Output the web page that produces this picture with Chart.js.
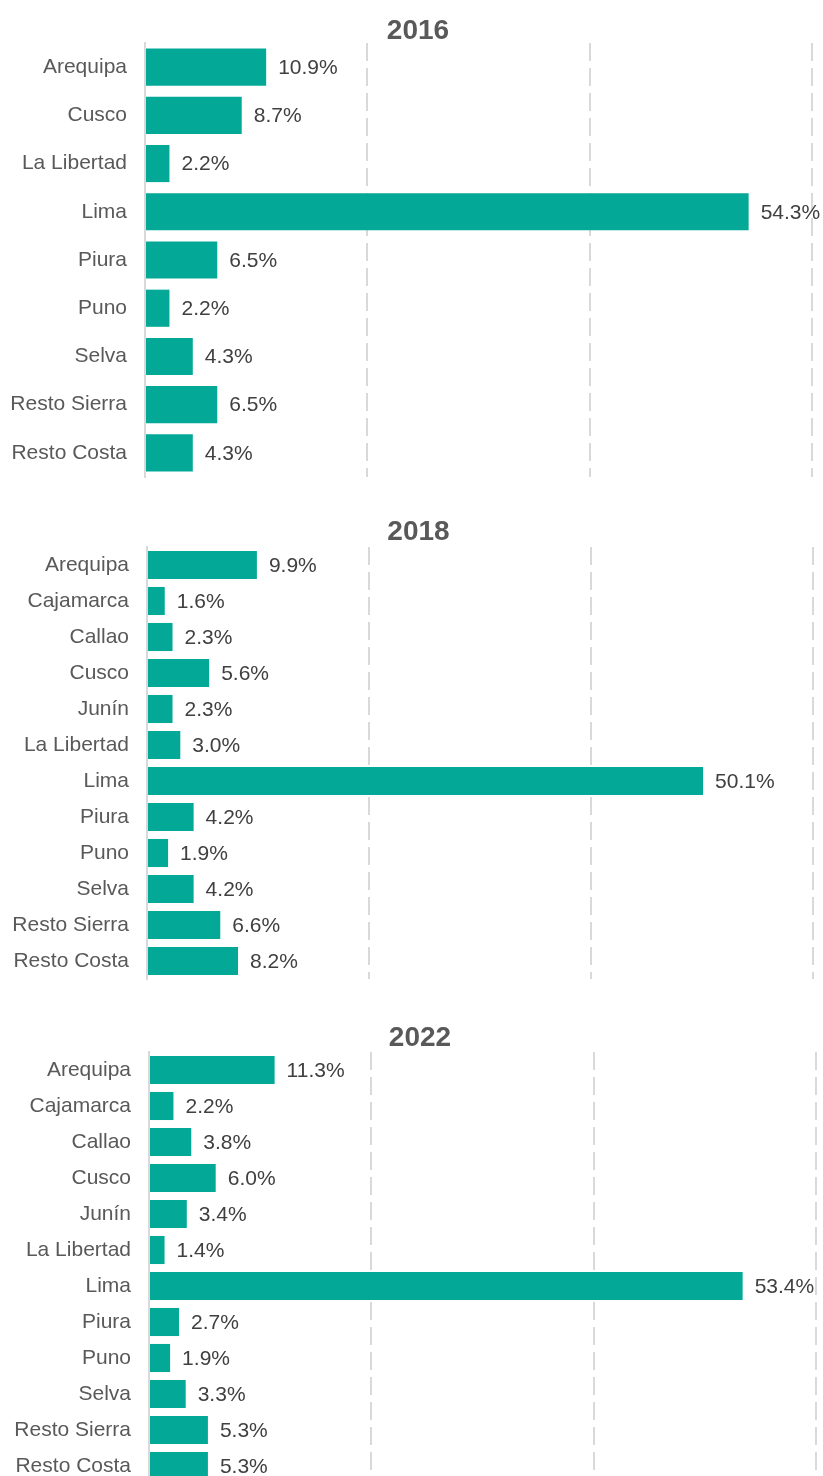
<!DOCTYPE html>
<html>
<head>
<meta charset="utf-8">
<script src="https://cdn.jsdelivr.net/npm/chart.js@4.4.0/dist/chart.umd.min.js"></script>
<style>
  body { margin: 0; background: #fff; }
  .box { position: absolute; left: 0; width: 823px; }
</style>
</head>
<body>
<div class="box" style="top:0"><canvas id="c2016" width="823" height="480"></canvas></div>
<div class="box" style="top:500px"><canvas id="c2018" width="823" height="485"></canvas></div>
<div class="box" style="top:1000px"><canvas id="c2022" width="823" height="490"></canvas></div>
<script>
const labels2016 = ["Arequipa", "Cusco", "La Libertad", "Lima", "Piura", "Puno", "Selva", "Resto Sierra", "Resto Costa"];
const values2016 = [10.9, 8.7, 2.2, 54.3, 6.5, 2.2, 4.3, 6.5, 4.3];

const labels2018 = ["Arequipa", "Cajamarca", "Callao", "Cusco", "Junín", "La Libertad", "Lima", "Piura", "Puno", "Selva", "Resto Sierra", "Resto Costa"];
const values2018 = [9.9, 1.6, 2.3, 5.6, 2.3, 3.0, 50.1, 4.2, 1.9, 4.2, 6.6, 8.2];

const labels2022 = ["Arequipa", "Cajamarca", "Callao", "Cusco", "Junín", "La Libertad", "Lima", "Piura", "Puno", "Selva", "Resto Sierra", "Resto Costa"];
const values2022 = [11.3, 2.2, 3.8, 6.0, 3.4, 1.4, 53.4, 2.7, 1.9, 3.3, 5.3, 5.3];

const xMax = 60;
const xStep = 20;

const FONT = '"Liberation Sans", Arial, sans-serif';
const BAR = "#03a996";
const GRID = "#d9d9d9";

// draws "10.9%" next to the end of each bar
const valueLabels = {
  id: "valueLabels",
  afterDatasetsDraw(chart) {
    const ctx = chart.ctx;
    const meta = chart.getDatasetMeta(0);
    const data = chart.data.datasets[0].data;
    ctx.save();
    ctx.font = "21px " + FONT;
    ctx.fillStyle = "#404040";
    ctx.textAlign = "left";
    ctx.textBaseline = "middle";
    meta.data.forEach((bar, i) => {
      ctx.fillText(data[i].toFixed(1) + "%", bar.x + 12, bar.y + 1);
    });
    ctx.restore();
  }
};

// title sits a bit right of the canvas centre in the original
const shiftTitle = {
  id: "shiftTitle",
  afterLayout(chart) {
    if (chart.titleBlock) chart.titleBlock.left = 24;
  }
};

function makeChart(id, title, labels, values, opt) {
  new Chart(document.getElementById(id), {
    type: "bar",
    data: {
      labels: labels,
      datasets: [{
        data: values,
        backgroundColor: BAR,
        barPercentage: opt.bar,
        categoryPercentage: 1
      }]
    },
    options: {
      indexAxis: "y",
      responsive: false,
      animation: false,
      layout: { padding: { left: 0, right: opt.right, top: 0, bottom: opt.bottom } },
      plugins: {
        legend: { display: false },
        tooltip: { enabled: false },
        title: {
          display: true,
          text: title,
          color: "#595959",
          font: { family: FONT, size: 28, weight: "bold", lineHeight: 1.0 },
          padding: { top: opt.titleTop, bottom: opt.titleBottom }
        }
      },
      scales: {
        x: {
          min: 0,
          max: xMax,
          ticks: { display: false, stepSize: xStep },
          grid: {
            drawTicks: false,
            lineWidth: 2,
            color: (c) => (c.tick && c.tick.value === 0 ? "transparent" : GRID)
          },
          border: { display: false, dash: [18, 7] }
        },
        y: {
          grid: { display: false, drawTicks: false },
          border: { display: true, color: GRID, width: 2 },
          ticks: {
            color: "#595959",
            padding: 18,
            font: { family: FONT, size: 21 }
          },
          afterFit: (scale) => {
            scale.width = opt.axisX;
            scale.paddingTop = 0;
            scale.paddingBottom = 0;
          }
        }
      }
    },
    plugins: [valueLabels, shiftTitle]
  });
}

makeChart("c2016", "2016", labels2016, values2016, { bar: 0.77, right: 11, bottom: 3, titleTop: 17, titleBottom: -2, axisX: 145 });
makeChart("c2018", "2018", labels2018, values2018, { bar: 0.78, right: 10, bottom: 6, titleTop: 18, titleBottom: 1, axisX: 147 });
makeChart("c2022", "2022", labels2022, values2022, { bar: 0.78, right: 7, bottom: 6, titleTop: 24, titleBottom: 0, axisX: 149 });
</script>
</body>
</html>
